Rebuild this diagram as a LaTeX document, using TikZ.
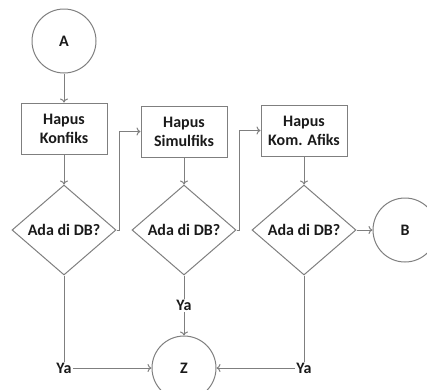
\documentclass[tikz,border=0pt]{standalone}
\usepackage{fontspec}
\setmainfont{Carlito}
\usetikzlibrary{arrows.meta, positioning, calc, shapes.geometric}
\definecolor{flowline}{HTML}{7F7F7F}
\definecolor{flowtext}{HTML}{1A1A1A}

\begin{document}
\begin{tikzpicture}[
      x=1pt, y=1pt,
      every node/.style={font=\bfseries\fontsize{16}{19}\selectfont,
        text=flowtext},
      term/.style={draw=flowline, line width=1pt, circle, minimum size=64pt,
        inner sep=0pt},
      proc/.style={draw=flowline, line width=1pt, minimum width=86pt,
        minimum height=51pt, align=center, inner sep=0pt},
      cond/.style={draw=flowline, line width=1pt, diamond, aspect=1.15,
        minimum width=104pt, minimum height=90pt, inner sep=0pt},
      lbl/.style={inner sep=1pt},
      flow/.style={draw=flowline, line width=1pt},
      >={To[length=4pt, width=8pt]}
    ]
      \useasboundingbox (0,0) rectangle (427,-389);
      \node[term] (A) at (64,-41) {A};
      \node[proc, below=29pt of A] (konfiks) {Hapus\\Konfiks};
      \node[cond, below=30pt of konfiks] (db1) {Ada di DB?};
      \node[cond, right=15pt of db1] (db2) {Ada di DB?};
      \node[cond, right=15pt of db2] (db3) {Ada di DB?};
      \node[proc, above=27pt of db2] (simulfiks) {Hapus\\Simulfiks};
      \node[proc, above=28pt of db3] (komafiks) {Hapus\\Kom. Afiks};
      \node[term, right=16pt of db3] (B) {B};
      \node[term, below=60pt of db2] (Z) {Z};
      \node[lbl] (ya2) at ($(db2.south)!0.5!(Z.north)$) {Ya};
      \node[lbl] (ya1) at (db1 |- Z) {Ya};
      \node[lbl] (ya3) at (db3 |- Z) {Ya};
      % alur utama
      \draw[flow, ->] (A) -- (konfiks);
      \draw[flow, ->] (konfiks) -- (db1);
      \draw[flow, ->] (simulfiks) -- (db2);
      \draw[flow, ->] (komafiks) -- (db3);
      \draw[flow, ->] (db1.east) -- ++(3,0) |- (simulfiks.west);
      \draw[flow, ->] (db2.east) -- ++(3,0) |- (komafiks.west);
      \draw[flow, ->] (db3) -- (B);
      % cabang Ya
      \draw[flow] (db1.south) -- (ya1);
      \draw[flow, ->] (ya1) -- (Z);
      \draw[flow] (db2.south) -- (ya2);
      \draw[flow, ->] (ya2) -- (Z);
      \draw[flow] (db3.south) -- (ya3);
      \draw[flow, ->] (ya3) -- (Z);
    \end{tikzpicture}
\end{document}
